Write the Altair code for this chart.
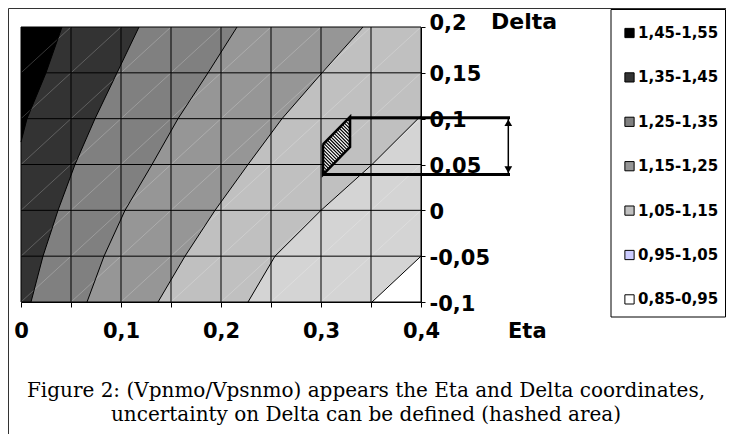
import altair as alt
import pandas as pd

# ---------------- data ----------------
eta_ticks = [0.0, 0.05, 0.10, 0.15, 0.20, 0.25, 0.30, 0.35, 0.40]
delta_ticks = [-0.1, -0.05, 0.0, 0.05, 0.1, 0.15, 0.2]

band_labels = ["1,45-1,55", "1,35-1,45", "1,25-1,35", "1,15-1,25",
               "1,05-1,15", "0,95-1,05", "0,85-0,95"]
legend_colors = ["#000000", "#333333", "#808080", "#969696",
                 "#C0C0C0", "#CCCCFF", "#FFFFFF"]
fill_colors = ["#000000", "#333333", "#808080", "#969696",
               "#C0C0C0", "#D4D4D4", "#FFFFFF"]

# contour boundaries (Eta where the value drops below the level, read per Delta)
lvl145_delta = [0.2, 0.15, 0.1, 0.0745]
lvl145_eta = [0.041, 0.025, 0.006, 0.0]
lvl135_delta = [0.2, 0.15, 0.1, 0.05, 0.0, -0.05, -0.1]
lvl135_eta = [0.118, 0.096, 0.074, 0.054, 0.037, 0.022, 0.010]
lvl125_delta = [0.2, 0.15, 0.1, 0.05, 0.0, -0.05, -0.1]
lvl125_eta = [0.216, 0.187, 0.157, 0.131, 0.104, 0.083, 0.066]
lvl115_delta = [0.2, 0.15, 0.1, 0.05, 0.0, -0.05, -0.1]
lvl115_eta = [0.342, 0.301, 0.261, 0.227, 0.194, 0.164, 0.137]
lvl105_delta = [0.2, 0.103, 0.1, 0.05, 0.0, -0.05, -0.1]
lvl105_eta = [0.4, 0.4, 0.397, 0.351, 0.300, 0.254, 0.227]
lvl095_delta = [0.2, -0.05, -0.1]
lvl095_eta = [0.4, 0.4, 0.351]

# hashed uncertainty area (parallelogram) and bracket
hatch_eta = [0.302, 0.329, 0.329, 0.302]
hatch_delta = [0.072, 0.102, 0.069, 0.039]
bracket_delta = [0.101, 0.039]
bracket_eta_start = [0.329, 0.302]
bracket_eta_end = [0.489, 0.489]
arrow_eta = [0.4873]

y_title = ["Delta"]
x_title = ["Eta"]
caption = ["Figure 2: (Vpnmo/Vpsnmo) appears the Eta and Delta coordinates,",
           "uncertainty on Delta  can be defined (hashed area)"]

# ---------------- chart ----------------
W, H = 400, 275
xs = alt.Scale(domain=[0, 0.4], nice=False, zero=False)
ys = alt.Scale(domain=[-0.1, 0.2], nice=False, zero=False)

x_axis = alt.Axis(
    values=eta_ticks, title=None, grid=False,
    labelExpr="round(datum.value*100) % 10 == 0 ? replace(format(datum.value, '~g'), '.', ',') : ''",
    domainColor="#000000", tickColor="#000000", tickSize=5, tickWidth=1,
    labelFont="DejaVu Sans", labelFontWeight="bold", labelFontSize=21,
    labelColor="#000000", labelPadding=13, labelOverlap=False, labelFlush=False,
)
y_axis = alt.Axis(
    orient="right", values=delta_ticks, title=None, grid=False,
    labelExpr="replace(replace(format(datum.value, '~g'), '.', ','), '\u2212', '-')",
    domainColor="#000000", tickColor="#000000", tickSize=4, tickWidth=1,
    labelFont="DejaVu Sans", labelFontWeight="bold", labelFontSize=21,
    labelColor="#000000", labelPadding=4, labelAlign="left",
    labelBaseline={"condition": {"test": "datum.value > 0.19", "value": "alphabetic"},
                   "value": "middle"},
    labelOffset=2, labelOverlap=False, labelFlush=False,
)


def X(f):
    return alt.X(f, type="quantitative", scale=xs, axis=x_axis)


def Y(f):
    return alt.Y(f, type="quantitative", scale=ys, axis=y_axis)


layers = []

# frame of the figure and legend box
frame = pd.DataFrame({"k": [0]})
layers.append(alt.Chart(frame).mark_rule(color="#333333", strokeWidth=1).encode(
    x=alt.value(-12.5), x2=alt.value(705), y=alt.value(-18.5)))
layers.append(alt.Chart(frame).mark_rule(color="#333333", strokeWidth=1).encode(
    x=alt.value(-12.5), y=alt.value(-18.5), y2=alt.value(410)))
layers.append(alt.Chart(frame).mark_rect(fill="#FFFFFF", stroke="#000000", strokeWidth=1).encode(
    x=alt.value(590), x2=alt.value(704.5), y=alt.value(-17.5), y2=alt.value(290)))

# filled contour bands (each = region left of its lower boundary)
bounds = [
    (lvl095_delta, lvl095_eta), (lvl105_delta, lvl105_eta), (lvl115_delta, lvl115_eta),
    (lvl125_delta, lvl125_eta), (lvl135_delta, lvl135_eta), (lvl145_delta, lvl145_eta),
]
band_fill = [fill_colors[5], fill_colors[4], fill_colors[3],
             fill_colors[2], fill_colors[1], fill_colors[0]]
for (dl, el), col in zip(bounds, band_fill):
    df = pd.DataFrame({"delta": dl, "eta": el})
    layers.append(alt.Chart(df).mark_area(orient="horizontal", color=col, opacity=1,
                                          interpolate="linear").encode(
        y=Y("delta"), x=X("eta"), x2=alt.datum(0.0)))

# faint surface mesh diagonals
mesh = []
for i in range(len(eta_ticks) - 1):
    for j in range(len(delta_ticks) - 1):
        mesh.append({"e0": eta_ticks[i], "e1": eta_ticks[i + 1],
                     "d0": delta_ticks[j], "d1": delta_ticks[j + 1]})
mesh_df = pd.DataFrame(mesh)
layers.append(alt.Chart(mesh_df).mark_rule(color="#FFFFFF", opacity=0.22, strokeWidth=1).encode(
    x=X("e0"), x2="e1", y=Y("d0"), y2="d1"))

# grid lines
layers.append(alt.Chart(pd.DataFrame({"eta": eta_ticks})).mark_rule(color="#000000", strokeWidth=1).encode(
    x=X("eta")))
layers.append(alt.Chart(pd.DataFrame({"delta": delta_ticks})).mark_rule(color="#000000", strokeWidth=1).encode(
    y=Y("delta")))

# contour lines
rows = []
for lvl, (dl, el) in zip(["0.95", "1.05", "1.15", "1.25", "1.35", "1.45"], bounds):
    for d, e in zip(dl, el):
        if e >= 0.4 and d >= 0.2:
            continue
        rows.append({"level": lvl, "delta": d, "eta": e})
cl_df = pd.DataFrame(rows)
layers.append(alt.Chart(cl_df).mark_line(color="#000000", strokeWidth=1).encode(
    x=X("eta"), y=Y("delta"), detail="level:N", order="delta:Q"))

# hashed parallelogram
px_e = W / 0.4
px_d = H / 0.3
P = [(e * px_e, -d * px_d) for e, d in zip(hatch_eta, hatch_delta)]
cs = [py - px for px, py in P]
hatch = []
step = 3.4
c = min(cs) + step / 2
while c < max(cs):
    pts = []
    for k in range(4):
        (x1, y1), (x2, y2) = P[k], P[(k + 1) % 4]
        dx, dy = x2 - x1, y2 - y1
        if abs(dy - dx) < 1e-9:
            continue
        u = (c - y1 + x1) / (dy - dx)
        if -1e-9 <= u <= 1 + 1e-9:
            pts.append((x1 + u * dx, y1 + u * dy))
    if len(pts) >= 2:
        pts.sort()
        (ax, ay), (bx, by) = pts[0], pts[-1]
        hatch.append({"e0": ax / px_e, "d0": -ay / px_d, "e1": bx / px_e, "d1": -by / px_d})
    c += step
hatch_df = pd.DataFrame(hatch)

para = pd.DataFrame({"eta": [hatch_eta[0], hatch_eta[1]],
                     "top": [hatch_delta[0], hatch_delta[1]],
                     "bot": [hatch_delta[3], hatch_delta[2]]})
layers.append(alt.Chart(para).mark_area(color="#FFFFFF", opacity=1).encode(
    x=X("eta"), y=Y("top"), y2="bot"))
layers.append(alt.Chart(hatch_df).mark_rule(color="#000000", strokeWidth=1.2).encode(
    x=X("e0"), x2="e1", y=Y("d0"), y2="d1"))
outline = pd.DataFrame({"eta": hatch_eta + [hatch_eta[0]],
                        "delta": hatch_delta + [hatch_delta[0]],
                        "o": list(range(5))})
layers.append(alt.Chart(outline).mark_line(color="#000000", strokeWidth=2.6).encode(
    x=X("eta"), y=Y("delta"), order="o:Q"))

# bracket lines and double arrow
br = pd.DataFrame({"delta": bracket_delta, "e0": bracket_eta_start, "e1": bracket_eta_end})
layers.append(alt.Chart(br).mark_rule(color="#000000", strokeWidth=3).encode(
    x=X("e0"), x2="e1", y=Y("delta")))
arr = pd.DataFrame({"eta": arrow_eta, "top": [bracket_delta[0]], "bot": [bracket_delta[1]]})
layers.append(alt.Chart(arr).mark_rule(color="#000000", strokeWidth=1.5).encode(
    x=X("eta"), y=Y("top"), y2="bot"))
layers.append(alt.Chart(arr).mark_point(shape="triangle-up", filled=True, size=60,
                                         color="#000000", opacity=1, yOffset=5).encode(
    x=X("eta"), y=Y("top")))
layers.append(alt.Chart(arr).mark_point(shape="triangle-down", filled=True, size=60,
                                         color="#000000", opacity=1, yOffset=-5).encode(
    x=X("eta"), y=Y("bot")))

# titles and caption
layers.append(alt.Chart(pd.DataFrame({"t": y_title})).mark_text(
    font="DejaVu Sans", fontWeight="bold", fontSize=22, align="left", baseline="alphabetic",
    color="#000000").encode(x=alt.value(470), y=alt.value(2), text="t:N"))
layers.append(alt.Chart(pd.DataFrame({"t": x_title})).mark_text(
    font="DejaVu Sans", fontWeight="bold", fontSize=21, align="left", baseline="alphabetic",
    color="#000000").encode(x=alt.value(487), y=alt.value(311), text="t:N"))
layers.append(alt.Chart(pd.DataFrame({"t": caption[:1]})).mark_text(
    font="DejaVu Serif", fontSize=20, align="center", baseline="alphabetic",
    color="#000000").encode(x=alt.value(345), y=alt.value(370), text="t:N"))
layers.append(alt.Chart(pd.DataFrame({"t": caption[1:]})).mark_text(
    font="DejaVu Serif", fontSize=20, align="center", baseline="alphabetic",
    color="#000000").encode(x=alt.value(345), y=alt.value(394), text="t:N"))

# legend (from its own empty layer so the swatches keep the legend colours)
legend_layer = alt.Chart(pd.DataFrame({"band": band_labels})).mark_square(opacity=1).encode(
    color=alt.Color("band:N", scale=alt.Scale(domain=band_labels, range=legend_colors),
                    legend=alt.Legend(
                        title=None, orient="none", legendX=601, legendY=-1.5, direction="vertical",
                        symbolType="square", symbolSize=85, symbolStrokeColor="#000000",
                        symbolStrokeWidth=1, symbolOpacity=1, padding=0, rowPadding=28.4,
                        labelFont="DejaVu Sans", labelFontWeight="bold", labelFontSize=15,
                        labelColor="#000000", labelOffset=1, labelLimit=200,
                        strokeColor="transparent")),
).transform_filter("false")
layers.append(legend_layer)

chart = alt.layer(*layers).properties(
    width=W, height=H,
    autosize=alt.AutoSizeParams(type="none"),
    padding={"left": 13, "top": 19, "right": 305, "bottom": 132},
    background="#FFFFFF",
).configure_view(stroke=None)

chart.save("out.html", embed_options={"renderer": "svg", "actions": False})
